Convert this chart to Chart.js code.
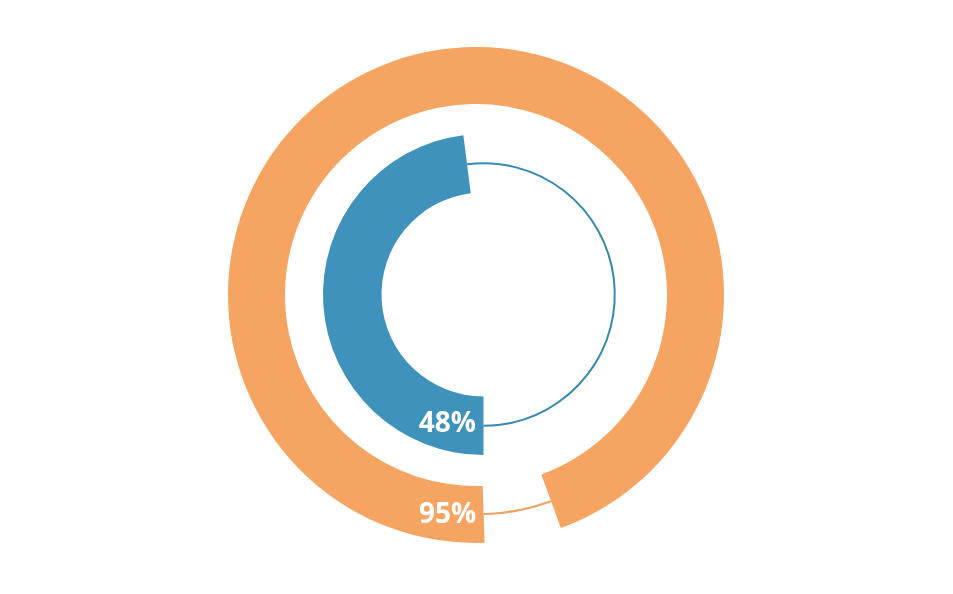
<!DOCTYPE html>
<html>
<head>
<meta charset="utf-8">
<script src="https://cdn.jsdelivr.net/npm/chart.js@4"></script>
<style>
  html, body { margin: 0; padding: 0; background: #fff; overflow: hidden; }
  .wrap { position: relative; width: 953px; height: 594px; }
  .wrap canvas { position: absolute; left: 0; top: 0; }
</style>
</head>
<body>
<div class="wrap">
  <canvas id="outerRing" width="953" height="594"></canvas>
  <canvas id="innerRing" width="953" height="594"></canvas>
</div>
<script>
// ring values (percent)
var ringNames = ["Outer", "Inner"];
var ringValues = [95, 48];
var ringColors = ["#f6a461", "#3e92bc"];
var lineColors = ["#f2a262", "#3788b3"];

// draws the rest of the ring as a thin line + the percent label
var ringExtras = {
    id: 'ringExtras',
    afterDatasetsDraw: function(chart) {
        var ctx = chart.ctx;
        var opts = chart.options.plugins.ringExtras;
        var meta = chart.getDatasetMeta(0);
        var filled = meta.data[0];
        var rest = meta.data[1];
        var midR = (rest.innerRadius + rest.outerRadius) / 2;

        ctx.save();
        ctx.beginPath();
        ctx.arc(rest.x, rest.y, midR, rest.startAngle, rest.endAngle);
        ctx.strokeStyle = opts.lineColor;
        ctx.lineWidth = 2;
        ctx.stroke();

        var sx = filled.x + midR * Math.cos(filled.startAngle);
        var sy = filled.y + midR * Math.sin(filled.startAngle);
        ctx.fillStyle = "#fff";
        ctx.font = "bold 28px 'Open Sans'";
        ctx.textAlign = "right";
        ctx.textBaseline = "middle";
        ctx.fillText(opts.label, sx - 7.5, sy + opts.labelDy);
        ctx.restore();
    }
};

function makeRing(id, i, radius, cutout, rotation, padding, labelDy){
    var ctx = document.getElementById(id).getContext('2d');
    return new Chart(ctx, {
        type: 'doughnut',
        data: {
            labels: [ringNames[i], ""],
            datasets: [{
                data: [ringValues[i], 100 - ringValues[i]],
                backgroundColor: [ringColors[i], "rgba(0,0,0,0)"],
                borderWidth: 0,
                hoverOffset: 0
            }]
        },
        options: {
            responsive: false,
            animation: false,
            events: [],
            radius: radius,
            cutout: cutout,
            rotation: rotation,
            layout: { padding: padding },
            plugins: {
                legend: { display: false },
                tooltip: { enabled: false },
                ringExtras: { label: ringValues[i] + "%", lineColor: lineColors[i], labelDy: labelDy }
            }
        },
        plugins: [ringExtras]
    });
}

makeRing("outerRing", 0, 248, (191 / 248 * 100) + "%", 178, {left: 0, right: 1, top: 0, bottom: 4}, 0.5);
makeRing("innerRing", 1, 160.5, (102 / 160.5 * 100) + "%", 180, {left: 14, right: 0, top: 0, bottom: 5}, -1.5);
</script>
</body>
</html>
